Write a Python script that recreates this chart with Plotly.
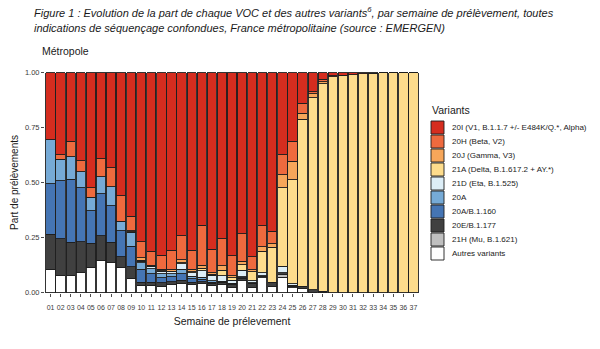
import plotly.graph_objects as go

# Weeks of sampling (01..37)
weeks = list(range(1, 38))
week_labels = [f"{w:02d}" for w in weeks]

# Share of each variant per week (stacked from bottom to top)
autres = [0.105, 0.076, 0.076, 0.089, 0.115, 0.144, 0.136, 0.115, 0.065, 0.033,
          0.033, 0.029, 0.035, 0.040, 0.035, 0.040, 0.033, 0.036, 0.025, 0.053,
          0.025, 0.068, 0.029, 0.070, 0.022, 0.018, 0.0, 0.0, 0.0, 0.0,
          0.0, 0.0, 0.0, 0.0, 0.0, 0.0, 0.0]
v21H = [0.0, 0.0, 0.0, 0.0, 0.0, 0.0, 0.0, 0.0, 0.0, 0.0,
        0.0, 0.0, 0.0, 0.0, 0.0, 0.0, 0.0, 0.0, 0.0, 0.0,
        0.0, 0.003, 0.0, 0.010, 0.006, 0.0, 0.0, 0.0, 0.0, 0.0,
        0.0, 0.0, 0.0, 0.0, 0.0, 0.0, 0.0]
v20E = [0.160, 0.168, 0.153, 0.141, 0.109, 0.115, 0.093, 0.049, 0.052, 0.014,
        0.015, 0.015, 0.015, 0.015, 0.012, 0.010, 0.010, 0.008, 0.012, 0.012,
        0.015, 0.006, 0.015, 0.010, 0.006, 0.008, 0.012, 0.005, 0.0, 0.0,
        0.0, 0.0, 0.0, 0.0, 0.0, 0.0, 0.0]
v20A_B1160 = [0.230, 0.265, 0.286, 0.247, 0.149, 0.191, 0.165, 0.116, 0.094, 0.059,
              0.038, 0.024, 0.021, 0.030, 0.015, 0.010, 0.005, 0.004, 0.003, 0.002,
              0.002, 0.0, 0.0, 0.0, 0.0, 0.0, 0.0, 0.0, 0.0, 0.0,
              0.0, 0.0, 0.0, 0.0, 0.0, 0.0, 0.0]
v20A = [0.200, 0.097, 0.102, 0.073, 0.060, 0.077, 0.088, 0.044, 0.063, 0.029,
        0.023, 0.018, 0.015, 0.020, 0.012, 0.010, 0.005, 0.004, 0.003, 0.005,
        0.002, 0.0, 0.0, 0.0, 0.0, 0.0, 0.0, 0.0, 0.0, 0.0,
        0.0, 0.0, 0.0, 0.0, 0.0, 0.0, 0.0]
v21D = [0.0, 0.0, 0.0, 0.0, 0.0, 0.0, 0.0, 0.0, 0.002, 0.008,
        0.008, 0.011, 0.009, 0.025, 0.015, 0.030, 0.025, 0.025, 0.012, 0.030,
        0.010, 0.012, 0.003, 0.030, 0.005, 0.002, 0.0, 0.0, 0.0, 0.0,
        0.0, 0.0, 0.0, 0.0, 0.0, 0.0, 0.0]
v21A = [0.0, 0.0, 0.0, 0.0, 0.0, 0.0, 0.0, 0.0, 0.0, 0.005,
        0.003, 0.003, 0.003, 0.005, 0.006, 0.010, 0.005, 0.025, 0.012, 0.025,
        0.040, 0.100, 0.160, 0.356, 0.475, 0.760, 0.873, 0.945, 0.982, 0.988,
        0.990, 0.995, 0.998, 1.0, 1.0, 1.0, 1.0]
v20J = [0.0, 0.0, 0.0, 0.0, 0.0, 0.0, 0.0, 0.0, 0.005, 0.010,
        0.005, 0.005, 0.007, 0.015, 0.010, 0.015, 0.008, 0.020, 0.010, 0.015,
        0.010, 0.020, 0.014, 0.060, 0.083, 0.028, 0.018, 0.008, 0.0, 0.0,
        0.0, 0.0, 0.0, 0.0, 0.0, 0.0, 0.0]
v20H = [0.0, 0.020, 0.071, 0.050, 0.043, 0.082, 0.085, 0.117, 0.065, 0.072,
        0.063, 0.065, 0.088, 0.108, 0.087, 0.180, 0.106, 0.123, 0.090, 0.125,
        0.060, 0.094, 0.058, 0.091, 0.091, 0.045, 0.010, 0.012, 0.003, 0.0,
        0.0, 0.0, 0.0, 0.0, 0.0, 0.0, 0.0]
v20I = [0.305, 0.374, 0.312, 0.400, 0.524, 0.391, 0.433, 0.559, 0.654, 0.770,
        0.812, 0.830, 0.807, 0.742, 0.808, 0.695, 0.803, 0.755, 0.833, 0.733,
        0.836, 0.697, 0.721, 0.373, 0.312, 0.139, 0.087, 0.030, 0.015, 0.012,
        0.010, 0.005, 0.002, 0.0, 0.0, 0.0, 0.0]

# Legend order (top to bottom) and fill colours
names = ["20I (V1, B.1.1.7 +/- E484K/Q.*, Alpha)", "20H (Beta, V2)", "20J (Gamma, V3)",
         "21A (Delta, B.1.617.2 + AY.*)", "21D (Eta, B.1.525)", "20A", "20A/B.1.160",
         "20E/B.1.177", "21H (Mu, B.1.621)", "Autres variants"]
series = [v20I, v20H, v20J, v21A, v21D, v20A, v20A_B1160, v20E, v21H, autres]
colors = ["#d52d1f", "#ee6a3e", "#f6a65a", "#fddc8c", "#ddeef7", "#76aad6",
          "#4575b4", "#404040", "#bfbfbf", "#ffffff"]

FONT = "Liberation Sans, Arial, sans-serif"
W, H = 600, 349
L, R, T, B = 45, 181, 72, 56
PW, PH = W - L - R, H - T - B


def px(x):
    return (x - L) / PW


def py(y):
    return (H - B - y) / PH


fig = go.Figure()
# stack from the bottom: last legend entry first
for name, vals, col in reversed(list(zip(names, series, colors))):
    fig.add_trace(go.Bar(
        x=weeks, y=vals, name=name, marker_color=col,
        marker_line_color="#1e1e1e", marker_line_width=0.9,
        showlegend=False,
    ))

annotations = []
shapes = []

# Title
annotations.append(dict(
    xref="paper", yref="paper", x=px(32), y=py(12), xanchor="left", yanchor="middle",
    text="<i>Figure 1 : Evolution de la part de chaque VOC et des autres variants<sup>6</sup>, "
         "par semaine de prélèvement, toutes</i>",
    showarrow=False, font=dict(size=11, color="#1a1a1a", family=FONT)))
annotations.append(dict(
    xref="paper", yref="paper", x=px(32), y=py(28), xanchor="left", yanchor="middle",
    text="<i>indications de séquençage confondues, France métropolitaine (source : EMERGEN)</i>",
    showarrow=False, font=dict(size=11, color="#1a1a1a", family=FONT)))
annotations.append(dict(
    xref="paper", yref="paper", x=px(40), y=py(51), xanchor="left", yanchor="middle",
    text="Métropole", showarrow=False,
    font=dict(size=10.5, color="#1a1a1a", family=FONT)))

# Legend drawn beside the plot
annotations.append(dict(
    xref="paper", yref="paper", x=px(430), y=py(110), xanchor="left", yanchor="middle",
    text="Variants", showarrow=False,
    font=dict(size=10.5, color="#1a1a1a", family=FONT)))
for i, (name, col) in enumerate(zip(names, colors)):
    top = 121 + 14 * i
    shapes.append(dict(type="rect", xref="paper", yref="paper",
                       x0=px(431), x1=px(444), y0=py(top + 13), y1=py(top),
                       fillcolor=col, line=dict(color="#1e1e1e", width=0.9)))
    annotations.append(dict(
        xref="paper", yref="paper", x=px(450), y=py(top + 6.5), xanchor="left", yanchor="middle",
        text=name, showarrow=False,
        font=dict(size=8, color="#1a1a1a", family=FONT)))

fig.update_layout(
    width=W, height=H,
    margin=dict(l=L, r=R, t=T, b=B),
    barmode="stack", bargap=0.08,
    plot_bgcolor="white", paper_bgcolor="white",
    font=dict(family=FONT, color="#1a1a1a"),
    annotations=annotations, shapes=shapes,
    xaxis=dict(
        range=[0.45, 37.55], tickmode="array", tickvals=weeks, ticktext=week_labels,
        tickangle=0, tickfont=dict(size=7, color="#3a3a3a"), ticks="outside", ticklen=3,
        ticklabelstandoff=5,
        tickcolor="#4d4d4d", tickwidth=0.6, showgrid=False, zeroline=False, showline=False,
        title=dict(text="Semaine de prélevement", font=dict(size=10.5, color="#1a1a1a"), standoff=7),
    ),
    yaxis=dict(
        range=[-0.002, 1.003], tickmode="array", tickvals=[0, 0.25, 0.5, 0.75, 1.0],
        ticktext=["0.00", "0.25", "0.50", "0.75", "1.00"],
        tickfont=dict(size=7.5, color="#3a3a3a"), ticks="outside", ticklen=3,
        tickcolor="#4d4d4d", tickwidth=0.6, showgrid=False, zeroline=False, showline=False,
        title=dict(text="Part de prélèvements", font=dict(size=10, color="#1a1a1a"), standoff=4),
    ),
)

fig.write_html("out.html")
